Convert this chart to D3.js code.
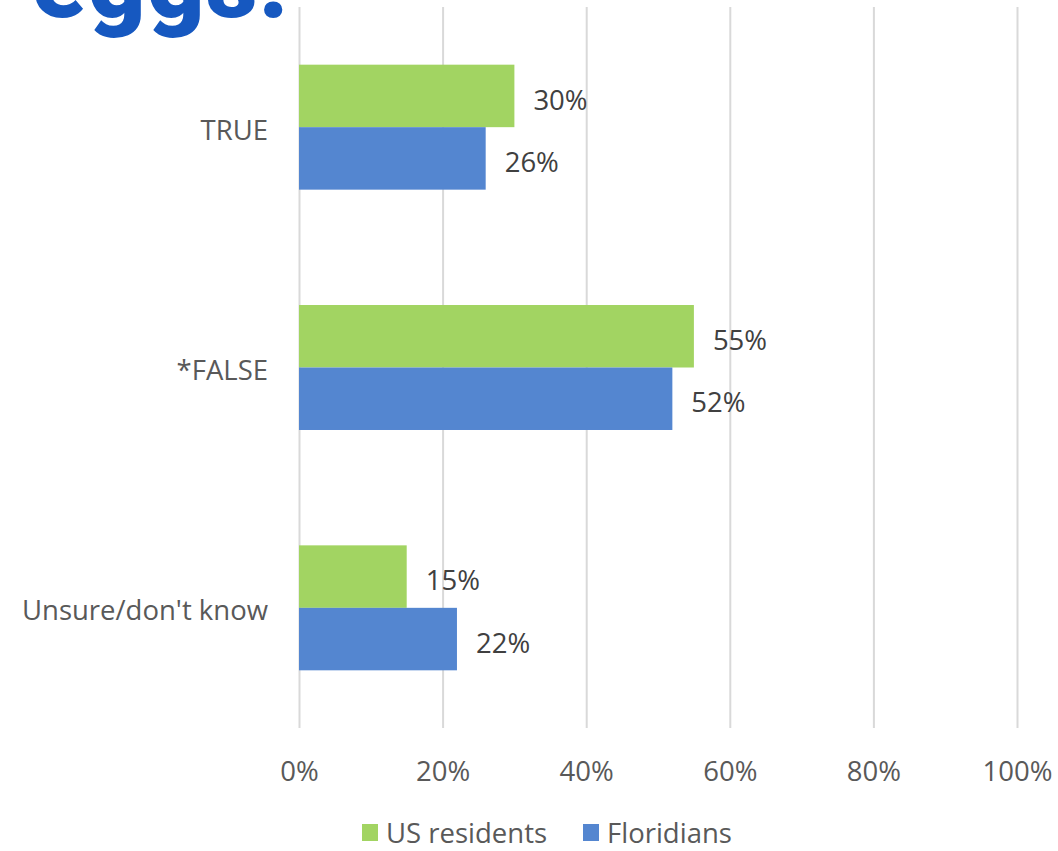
<!DOCTYPE html>
<html>
<head>
<meta charset="utf-8">
<script src="https://cdn.jsdelivr.net/npm/d3@7"></script>
<style>
  html, body { margin: 0; padding: 0; background: #fff; }
  svg { display: block; }
</style>
</head>
<body>
<svg id="chart" width="1058" height="851"></svg>
<script>
const categories = ["TRUE", "*FALSE", "Unsure/don't know"];
const seriesNames = ["US residents", "Floridians"];
const usResidents = [30, 55, 15];
const floridians = [26, 52, 22];
const xTicks = [0, 20, 40, 60, 80, 100];
const colors = ["#a2d462", "#5486d0"];
const titleText = "eggs!";

const W = 1058, H = 851;
const margin = { left: 299, right: 41, top: 7, bottom: 123 };
const svg = d3.select("#chart");
const font = "'Open Sans', sans-serif";
const fs = 27.5;

// Title (clipped at the plot edge, as in the reference)
svg.append("clipPath").attr("id", "titleClip")
  .append("rect").attr("x", 0).attr("y", 0).attr("width", 298).attr("height", 60);
svg.append("text")
  .attr("clip-path", "url(#titleClip)")
  .attr("x", 32).attr("y", 17)
  .attr("font-family", "Roboto, sans-serif")
  .attr("font-weight", 900)
  .attr("font-size", 100)
  .attr("letter-spacing", 1.5)
  .attr("fill", "#1658c0")
  .text(titleText);

const x = d3.scaleLinear().domain([0, 100]).range([margin.left, W - margin.right]);
const y = d3.scaleBand().domain(categories).range([margin.top, H - margin.bottom]).paddingInner(0.48).paddingOuter(0.24);
const ySub = d3.scaleBand().domain(seriesNames).range([0, y.bandwidth()]);

// gridlines
const grid = svg.append("g")
  .attr("transform", `translate(0,${margin.top})`)
  .call(d3.axisBottom(x).tickValues(xTicks).tickSize(H - margin.bottom - margin.top).tickFormat(""));
grid.select(".domain").remove();
grid.selectAll(".tick line").attr("stroke", "#d9d9d9").attr("stroke-width", 2);

const data = categories.map((c, i) => ({ cat: c, values: [usResidents[i], floridians[i]] }));

const groups = svg.selectAll("g.cat").data(data).enter().append("g")
  .attr("class", "cat")
  .attr("transform", d => `translate(0,${y(d.cat)})`);

groups.selectAll("rect").data(d => d.values.map((v, j) => ({ v, s: seriesNames[j], j })))
  .enter().append("rect")
  .attr("x", x(0))
  .attr("y", d => ySub(d.s))
  .attr("width", d => x(d.v) - x(0))
  .attr("height", ySub.bandwidth())
  .attr("fill", d => colors[d.j]);

groups.selectAll("text.val").data(d => d.values.map((v, j) => ({ v, s: seriesNames[j], j })))
  .enter().append("text")
  .attr("class", "val")
  .attr("x", d => x(d.v) + 19)
  .attr("y", d => ySub(d.s) + ySub.bandwidth() / 2)
  .attr("dy", "0.5em")
  .attr("font-family", font)
  .attr("font-size", fs)
  .attr("fill", "#404040")
  .text(d => d.v + "%");

// y axis labels
const yAxis = svg.append("g")
  .attr("transform", `translate(${x(0)},0)`)
  .call(d3.axisLeft(y).tickSize(0).tickPadding(31));
yAxis.select(".domain").remove();
yAxis.selectAll("text")
  .attr("font-family", font).attr("font-size", fs).attr("fill", "#595959").attr("dy", "0.45em");

// x axis labels
const xAxis = svg.append("g")
  .attr("transform", `translate(0,${H - margin.bottom})`)
  .call(d3.axisBottom(x).tickValues(xTicks).tickSize(0).tickPadding(33).tickFormat(d => d + "%"));
xAxis.select(".domain").remove();
xAxis.selectAll("text")
  .attr("font-family", font).attr("font-size", fs).attr("fill", "#595959");

// legend
const legendItems = [{ name: seriesNames[0], x: 362 }, { name: seriesNames[1], x: 583 }];
const legend = svg.append("g");
legendItems.forEach((it, i) => {
  legend.append("rect").attr("x", it.x).attr("y", 824).attr("width", 16).attr("height", 17).attr("fill", colors[i]);
  legend.append("text").attr("x", it.x + 24).attr("y", 832).attr("dy", "0.4em")
    .attr("font-family", font).attr("font-size", fs).attr("fill", "#595959").text(it.name);
});
</script>
</body>
</html>
